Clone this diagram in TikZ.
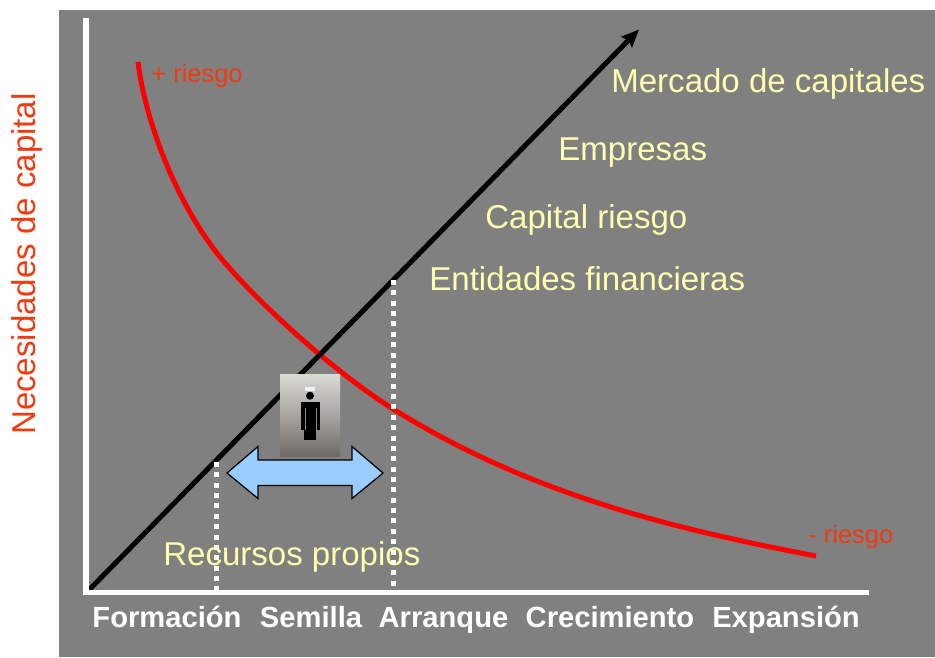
\documentclass[tikz,border=0pt]{standalone}
\usepackage{fontspec}
\setmainfont{Liberation Sans}
\usetikzlibrary{arrows.meta}
\definecolor{panelgray}{HTML}{808080}
\definecolor{creamtext}{HTML}{FFFFB0}
\definecolor{risktext}{HTML}{F03A10}
\definecolor{arrowblue}{HTML}{99CCFF}
\definecolor{phototop}{HTML}{DADAD5}
\definecolor{photomid}{HTML}{A8A5A2}
\definecolor{photolow}{HTML}{6E6A66}
\tikzset{
	cream/.style={text=creamtext, font=\fontsize{18.8}{20}\selectfont, inner sep=0pt, anchor=base west},
	stage/.style={text=white, font=\fontsize{16.6}{18}\selectfont\bfseries, inner sep=0pt, anchor=base},
	risk/.style={text=risktext, font=\fontsize{14.5}{16}\selectfont, inner sep=0pt, anchor=base west},
	axis/.style={white, line width=3pt},
	dots/.style={white, line width=2.85pt, dash pattern=on 2.85pt off 3.05pt}
}
\begin{document}
\begin{tikzpicture}[x=0.02cm, y=-0.02cm]
\useasboundingbox (0,0) rectangle (935,657);
\fill[panelgray] (59,10) rectangle (935,657);
\coordinate (ytop) at (86,21); \coordinate (origin) at (86,592.5); \coordinate (xend) at (866,592.5);
\coordinate (linetop) at (639,29.5); \coordinate (linestart) at (88,591);
\coordinate (dotA) at (216,462); \coordinate (dotAend) at (216,593);
\coordinate (dotB) at (393,280); \coordinate (dotBend) at (393,593);
% curve of risk
\draw[red, line width=2.85pt] (138,62) .. controls (146,125) and (178,205) .. (220,257) .. controls (258,303) and (333,371) .. (393,409) .. controls (533,496) and (676,529) .. (816,556);
\draw[black, line width=2.85pt, -{Stealth[length=10pt,width=8.5pt,inset=1.5pt]}] (linestart) -- (linetop);
\draw[dots] (dotA) -- (dotAend);
\draw[dots] (dotB) -- (dotBend);
\draw[axis, line cap=rect] (ytop) -- (origin) -- (xend);
% person
\node[minimum width=1.2cm, minimum height=1.64cm, inner sep=0pt, top color=phototop, bottom color=photolow, middle color=photomid] (photo) at (310,415) {};
\fill[white, opacity=.75] (305,387) rectangle (315,391);
\fill[black] (310,395.7) circle (4);
\fill[black] (301,402) rectangle (320,430);
\fill[black] (304,430) rectangle (316,440);
\draw[black!45, line width=.5pt] (305,408) -- (305,430) (316,408) -- (316,430);
% span arrow
\draw[black, fill=arrowblue, line width=.7pt] (227,473) -- (258,446.5) -- (258,460) -- (352,460) -- (352,446.5) -- (383,473) -- (352,498.5) -- (352,485.5) -- (258,485.5) -- (258,498.5) -- cycle;
% texts
\node[cream] (mercado) at (611,92) {Mercado de capitales};
\node[cream] (empresas) at (558,160) {Empresas};
\node[cream] (capital) at (485,228) {Capital riesgo};
\node[cream] (entidades) at (429,290) {Entidades financieras};
\node[cream] (recursos) at (163,565) {Recursos propios};
\node[risk] (masriesgo) at (151,82) {+ riesgo};
\node[risk] (menosriesgo) at (808,543) {- riesgo};
\node[text=risktext, font=\fontsize{18.8}{20}\selectfont, rotate=90, inner sep=0pt, anchor=base] (necesidades) at (35,264) {Necesidades de capital};
\foreach \name/\x/\label in {formacion/167/Formación, semilla/311/Semilla, arranque/443.5/Arranque, crecimiento/610/Crecimiento, expansion/786/Expansión}
	\node[stage] (\name) at (\x,627) {\label};
\end{tikzpicture}
\end{document}
